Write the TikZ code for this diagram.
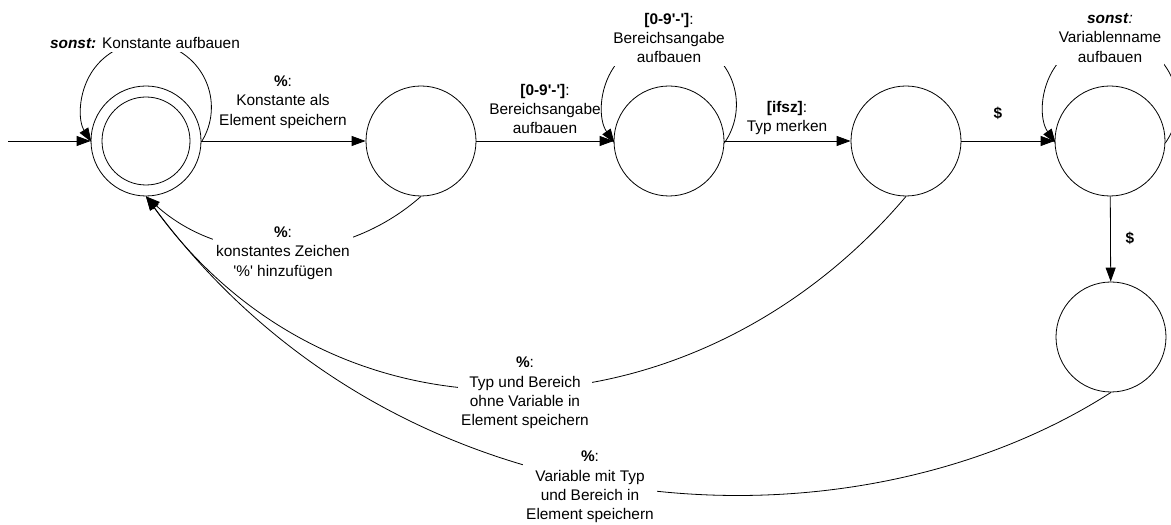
\documentclass[tikz,border=0pt]{standalone}
\usepackage{fontspec}
\setmainfont{Liberation Sans}[Ligatures=TeXOff]
\usetikzlibrary{arrows.meta}
\begin{document}
\begin{tikzpicture}[x=1pt,y=1pt,
  every node/.style={font=\fontsize{15.4}{19.3}\selectfont},
  state/.style={circle, draw, line width=0.8pt, minimum size=110pt, inner sep=0pt},
  inner ring/.style={circle, draw, line width=0.8pt, minimum size=88pt, inner sep=0pt},
  trans/.style={line width=0.8pt, -{Triangle[length=14pt,width=10pt]}},
  lab/.style={align=center, inner sep=2pt},
  gaplabel/.style={lab, fill=white, inner sep=3pt},
]
\useasboundingbox (0,0) rectangle (1171,525);
\clip (0,0) rectangle (1171,525);

% states
\node[state] (s1) at (146,384) {};
\node[inner ring] (s1i) at (146,384) {};
\node[state] (s2) at (421,384) {};
\node[state] (s3) at (669,384) {};
\node[state] (s4) at (906,384) {};
\node[state] (s5) at (1110,384) {};
\node[state] (s6) at (1111,188) {};
\coordinate (entry) at (8,384);

% straight transitions
\draw[trans] (entry) -- (s1.west);
\draw[trans] (s1) -- (s2);
\draw[trans] (s2) -- (s3);
\draw[trans] (s3) -- (s4);
\draw[trans] (s4) -- (s5);
\draw[trans] (s5) -- (s6);

% self loops
\draw[trans] (s1.-1.8) arc[start angle=-32.2, end angle=212.2, radius=65];
\draw[trans] (s3.-2.4) arc[start angle=-34.9, end angle=214.9, radius=67];
\draw[trans] (s5.-2.4) arc[start angle=-34.9, end angle=214.9, radius=67];

% back to the start state
\draw[trans] (s2.south) .. controls (341,258) and (224,258) .. (s1.south);
\node[gaplabel] (lC) at (283,272) {\textbf{\%}:\\konstantes Zeichen\\'\%' hinzufügen};
\draw[trans] (s4.south) .. controls (700,85) and (340,60) .. (s1.south);
\draw[trans] (s6.south) .. controls (850,-35) and (400,-15) .. (s1.south);

% labels
\node[gaplabel] (lA) at (145,482) {\textbf{\textit{sonst:}} Konstante aufbauen};
\node[lab] (lB) at (283,423) {\textbf{\%}:\\Konstante als\\Element speichern};
\node[lab] (lD) at (545,416) {\textbf{[0-9'-']}:\\Bereichsangabe\\aufbauen};
\node[gaplabel] (lE) at (669,487) {\textbf{[0-9'-']}:\\Bereichsangabe\\aufbauen};
\node[lab] (lF) at (787,407) {\textbf{[ifsz]}:\\Typ merken};
\node[lab] (lG) at (998,412) {\textbf{\$}};
\node[gaplabel] (lH) at (1110,487) {\textbf{\textit{sonst}}\textit{:}\\Variablenname\\aufbauen};
\node[lab] (lI) at (1130,287) {\textbf{\$}};
\node[gaplabel] (lJ) at (525,132) {\textbf{\%}:\\Typ und Bereich\\ohne Variable in\\Element speichern};
\node[gaplabel] (lK) at (590,38) {\textbf{\%}:\\Variable mit Typ\\und Bereich in\\Element speichern};
\end{tikzpicture}
\end{document}
